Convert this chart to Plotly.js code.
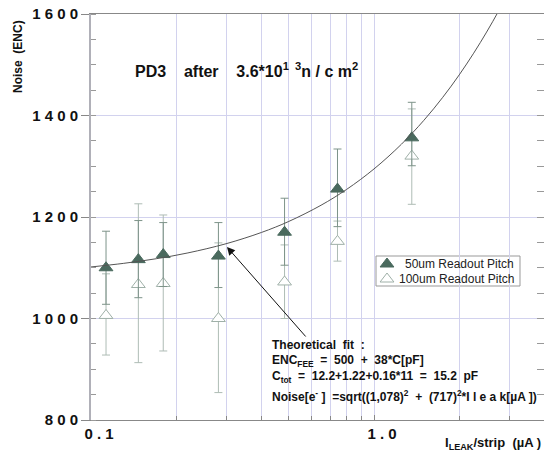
<!DOCTYPE html>
<html>
<head>
<meta charset="utf-8">
<script src="https://cdn.plot.ly/plotly-3.0.1.min.js"></script>
<style>html,body{margin:0;padding:0;background:#fff;}#chart{width:544px;height:462px;}</style>
</head>
<body>
<div id="chart"></div>
<script>
// ---- data ----
const leakCurrent = [0.113, 0.147, 0.180, 0.282, 0.483, 0.743, 1.36];   // I_LEAK/strip (uA)
const noise50 = [1100, 1116, 1126, 1123, 1170, 1255, 1356];
const err50Plus = [72, 77, 63, 66, 67, 79, 70];
const err50Minus = [72, 75, 63, 62, 65, 74, 55];
const noise100 = [1006, 1067, 1069, 1000, 1072, 1152, 1320];
const err100Plus = [82, 159, 135, 149, 73, 40, 93];
const err100Minus = [78, 154, 133, 146, 72, 39, 95];
// theoretical fit constants printed on the chart: Noise = sqrt(A^2 + B^2 * Ileak)
const fitA = 1078;
const fitB = 717;
const fitX = [0.1, 0.13, 0.17, 0.22, 0.3, 0.4, 0.5, 0.65, 0.8, 1.0, 1.25, 1.5, 1.75, 2.0, 2.25, 2.5, 2.75, 3.0, 3.5, 4.0];
const xTickVals = [0.1, 1];
const xTickText = ['0 . 1', '1 . 0'];
const xMinorVals = [0.2, 0.3, 0.4, 0.5, 0.6, 0.7, 0.8, 0.9, 2, 3];
const yTickVals = [800, 1000, 1200, 1400, 1600];
const yTickText = ['8 0 0', '1 0 0 0', '1 2 0 0', '1 4 0 0', '1 6 0 0'];

const fitY = fitX.map(i => Math.sqrt(fitA * fitA + fitB * fitB * i));

// ---- layout helpers (pixel -> paper) ----
const L = 91, T = 14, W = 453, H = 406;
const px = x => (x - L) / W;
const py = y => (T + H - y) / H;

const FONT = 'Liberation Sans, Arial, sans-serif';
const dark = '#4a6a5e';
const errDark = '#7d9389';
const errLight = '#aebcb5';
const gridC = '#d2d2ee';

const traces = [
  {
    x: leakCurrent, y: noise100, type: 'scatter', mode: 'markers',
    marker: {symbol: 'triangle-up', size: 12, color: '#ffffff', line: {color: '#9fb0a8', width: 1}},
    error_y: {type: 'data', symmetric: false, array: err100Plus, arrayminus: err100Minus,
              color: errLight, thickness: 1, width: 4},
    showlegend: false
  },
  {
    x: leakCurrent, y: noise50, type: 'scatter', mode: 'markers',
    marker: {symbol: 'triangle-up', size: 12, color: dark, line: {color: dark, width: 1}},
    error_y: {type: 'data', symmetric: false, array: err50Plus, arrayminus: err50Minus,
              color: errDark, thickness: 1, width: 4},
    showlegend: false
  },
  {
    x: fitX, y: fitY, type: 'scatter', mode: 'lines', yaxis: 'y3',
    line: {color: '#555555', width: 1, shape: 'spline'}, showlegend: false
  },
  // legend symbols (positions in legend box, not data)
  {
    x: [px(387), px(387)], y: [py(264), py(279)], xaxis: 'x2', yaxis: 'y2',
    type: 'scatter', mode: 'markers', showlegend: false, hoverinfo: 'skip',
    marker: {symbol: 'triangle-up', size: 12, color: [dark, '#ffffff'],
             line: {color: [dark, '#9fb0a8'], width: 1}}
  }
];

const ann = (text, x, y, opts) => Object.assign({
  text: text, x: px(x), y: py(y), xref: 'paper', yref: 'paper',
  xanchor: 'left', yanchor: 'middle', showarrow: false,
  font: {family: FONT, size: 12, color: '#111111', weight: 'bold'}
}, opts || {});

const layout = {
  width: 544, height: 462,
  margin: {l: L, r: 544 - L - W, t: T, b: 462 - T - H},
  paper_bgcolor: '#ffffff', plot_bgcolor: '#ffffff',
  showlegend: false,
  font: {family: FONT, color: '#111111'},
  xaxis: {
    type: 'log', range: [-1, 0.6007],
    tickvals: xTickVals, ticktext: xTickText, ticklabelshift: 8,
    tickfont: {family: FONT, size: 15, weight: 'bold', color: '#111111'},
    ticks: 'inside', ticklen: 5, tickcolor: '#888888',
    showgrid: true, gridcolor: gridC, gridwidth: 1,
    minor: {tickvals: xMinorVals, ticks: 'inside', ticklen: 4, tickcolor: '#888888',
            showgrid: true, gridcolor: gridC, gridwidth: 1},
    showline: true, linecolor: '#888888', linewidth: 1, mirror: true,
    zeroline: false
  },
  yaxis: {
    range: [800, 1600], tickvals: yTickVals, ticktext: yTickText,
    tickfont: {family: FONT, size: 15, weight: 'bold', color: '#111111'},
    ticks: 'outside', ticklen: 8, tickcolor: '#888888',
    showgrid: true, gridcolor: gridC, gridwidth: 1,
    minor: {dtick: 50, tick0: 800, ticks: 'inside', ticklen: 5, tickcolor: '#999999', showgrid: false},
    showline: true, linecolor: '#b0b0b8', linewidth: 2, mirror: false,
    zeroline: false
  },
  yaxis3: {
    overlaying: 'y', side: 'right', range: [800, 1600], dtick: 50, tick0: 800,
    ticks: 'inside', ticklen: 7, tickcolor: '#999999', showticklabels: false,
    showgrid: false, showline: false, zeroline: false
  },
  xaxis2: {overlaying: 'x', range: [0, 1], visible: false, fixedrange: true},
  yaxis2: {overlaying: 'y', range: [0, 1], visible: false, fixedrange: true},
  shapes: [
    {type: 'rect', xref: 'paper', yref: 'paper', layer: 'between',
     x0: px(376), x1: px(520), y0: py(286), y1: py(256),
     fillcolor: '#ffffff', line: {color: '#999999', width: 1}}
  ],
  annotations: [
    ann('PD3    after    3.6*10<sup>1  3</sup>n / c m<sup>2</sup>', 133, 70,
        {font: {family: FONT, size: 16, weight: 'bold', color: '#111111'}}),
    ann('Noise  (ENC)', 18, 57, {xanchor: 'center', textangle: -90,
        font: {family: FONT, size: 12, weight: 'bold', color: '#111111'}}),
    ann('I<sub>LEAK</sub>/strip  (\u00b5A )', 443, 443,
        {font: {family: FONT, size: 13, weight: 'bold', color: '#111111'}}),
    ann('50um Readout Pitch', 516, 264, {xanchor: 'right',
        font: {family: FONT, size: 12, color: '#222222'}}),
    ann('100um Readout Pitch', 516, 279, {xanchor: 'right',
        font: {family: FONT, size: 12, color: '#222222'}}),
    ann('Theoretical  fit  :', 270, 345),
    ann('ENC<sub>FEE</sub>  =  500  +  38*C[pF]', 270, 361),
    ann('C<sub>tot</sub>  =  12.2+1.22+0.16*11  =  15.2  pF', 270, 377),
    ann('Noise[e<sup>-</sup> ]  =sqrt((1,078)<sup>2</sup>  +  (717)<sup>2</sup>*I l e a k[\u00b5A ])', 270, 396),
    {text: '', x: px(227), y: py(247), xref: 'paper', yref: 'paper',
     showarrow: true, arrowhead: 2, arrowsize: 1.6, arrowwidth: 1, arrowcolor: '#111111',
     ax: 80, ay: 91, standoff: 0}
  ]
};

Plotly.newPlot('chart', traces, layout, {displayModeBar: false, staticPlot: true});
</script>
</body>
</html>
